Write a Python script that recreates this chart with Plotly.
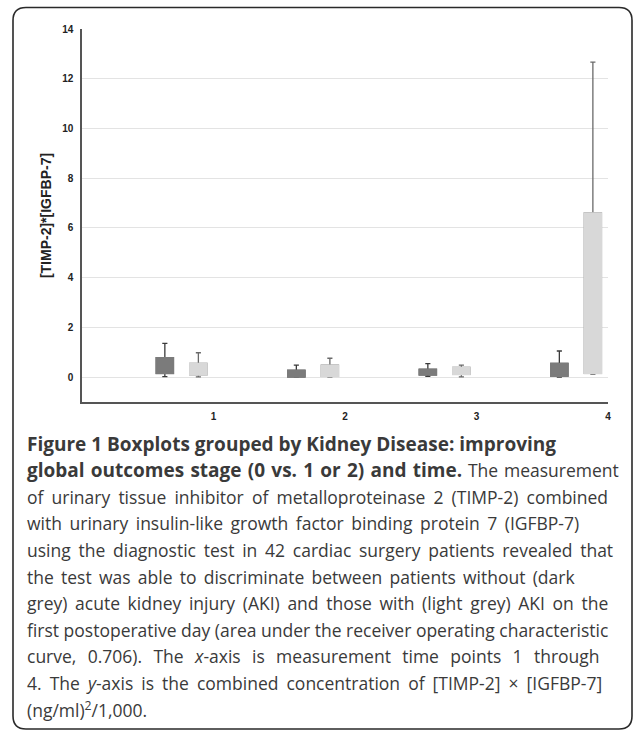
import plotly.graph_objects as go

# ---- data ----
time_points = [1, 2, 3, 4]
tick_labels = ["1", "2", "3", "4"]

# without AKI (dark grey)
noaki_lower = [0.02, 0.00, 0.03, 0.00]
noaki_q1 = [0.15, 0.01, 0.09, 0.04]
noaki_median = [0.15, 0.01, 0.09, 0.04]
noaki_q3 = [0.78, 0.27, 0.31, 0.55]
noaki_upper = [1.36, 0.48, 0.54, 1.05]

# with AKI (light grey)
aki_lower = [0.01, 0.00, 0.01, 0.11]
aki_q1 = [0.09, 0.03, 0.11, 0.15]
aki_median = [0.09, 0.03, 0.11, 0.15]
aki_q3 = [0.55, 0.48, 0.39, 6.60]
aki_upper = [0.98, 0.76, 0.48, 12.67]

B0 = '<b><span style="font-size:19px">'
B1 = '</span></b>'
caption_lines = [
    B0 + "Figure 1 Boxplots grouped by Kidney Disease: improving" + B1,
    B0 + "global outcomes stage (0 vs. 1 or 2) and time." + B1 + " The measurement",
    "of urinary tissue inhibitor of metalloproteinase 2 (TIMP-2) combined",
    "with urinary insulin-like growth factor binding protein 7 (IGFBP-7)",
    "using the diagnostic test in 42 cardiac surgery patients revealed that",
    "the test was able to discriminate between patients without (dark",
    "grey) acute kidney injury (AKI) and those with (light grey) AKI on the",
    "first postoperative day (area under the receiver operating characteristic",
    "curve, 0.706). The <i>x</i>-axis is measurement time points 1 through",
    "4. The <i>y</i>-axis is the combined concentration of [TIMP-2] × [IGFBP-7]",
    "(ng/ml)<sup>2</sup>/1,000.",
]
# extra word spacing (px) per caption line, to mimic the justified paragraph
caption_word_spacing = [0, 1.3, 3.6, 3.0, 3.2, 2.7, 3.1, 0, 6.8, 3.5, 0]

# ---- layout geometry (pixels) ----
W, H = 634, 731
PX0, PX1, PY0, PY1 = 82, 608, 29, 402


def px(x):
    return (x - PX0) / (PX1 - PX0)


def py(y):
    return (PY1 - y) / (PY1 - PY0)


DARK_OFF, LIGHT_OFF, BW = -0.37, -0.115, 0.13
DARK_FILL, LIGHT_FILL = "#7b7b7b", "#d8d8d8"

fig = go.Figure()

groups = [
    (DARK_OFF, noaki_lower, noaki_q1, noaki_median, noaki_q3, noaki_upper, DARK_FILL, "#3a3a3a"),
    (LIGHT_OFF, aki_lower, aki_q1, aki_median, aki_q3, aki_upper, LIGHT_FILL, "#6a6a6a"),
]
# whiskers (with caps)
for off, lo, q1, med, q3, up, fill, wcol in groups:
    xs = [t + off for t in time_points]
    fig.add_trace(go.Box(
        x=xs, q1=q1, median=med, q3=q3, lowerfence=lo, upperfence=up,
        width=BW, whiskerwidth=0.3, fillcolor=fill,
        line=dict(color=wcol, width=1.3), boxpoints=False,
        showlegend=False, hoverinfo="skip",
    ))
# solid boxes without dark outline, drawn on top
for off, lo, q1, med, q3, up, fill, wcol in groups:
    xs = [t + off for t in time_points]
    fig.add_trace(go.Box(
        x=xs, q1=q1, median=med, q3=q3, lowerfence=q1, upperfence=q3,
        width=BW, whiskerwidth=0, fillcolor=fill,
        line=dict(color=fill, width=1.6), boxpoints=False,
        showlegend=False, hoverinfo="skip",
    ))

# caption
LINE0, DL = 443.5, 26.6
annotations = []
for i, txt in enumerate(caption_lines):
    ws = caption_word_spacing[i]
    if ws:
        txt = f'<span style="word-spacing:{ws}px">' + txt + '</span>'
    annotations.append(dict(
        x=px(25), y=py(LINE0 + i * DL), xref="paper", yref="paper",
        xanchor="left", yanchor="middle", showarrow=False, text=txt,
        font=dict(family="Open Sans", size=17.5, color="#3a3a3a"),
    ))

# rounded frame
def frame_path(x0, y0, x1, y1, r):
    pts = [
        f"M {px(x0 + r)} {py(y0)}",
        f"L {px(x1 - r)} {py(y0)}",
        f"Q {px(x1)} {py(y0)} {px(x1)} {py(y0 + r)}",
        f"L {px(x1)} {py(y1 - r)}",
        f"Q {px(x1)} {py(y1)} {px(x1 - r)} {py(y1)}",
        f"L {px(x0 + r)} {py(y1)}",
        f"Q {px(x0)} {py(y1)} {px(x0)} {py(y1 - r)}",
        f"L {px(x0)} {py(y0 + r)}",
        f"Q {px(x0)} {py(y0)} {px(x0 + r)} {py(y0)}",
        "Z",
    ]
    return " ".join(pts)


fig.add_shape(type="path", xref="paper", yref="paper",
              path=frame_path(13, 7.5, 632, 729, 13),
              line=dict(color="#2a2a2a", width=1.6), fillcolor="rgba(0,0,0,0)")

tick_font = dict(family="Liberation Sans", size=10, color="#222222", weight="bold")

fig.update_layout(
    width=W, height=H,
    margin=dict(l=PX0, r=W - PX1, t=PY0, b=H - PY1, pad=0),
    paper_bgcolor="white", plot_bgcolor="white",
    boxmode="overlay",
    annotations=annotations,
    xaxis=dict(
        range=[0, 4], tickmode="array", tickvals=time_points, ticktext=tick_labels,
        showgrid=False, zeroline=False, showline=True, linecolor="#555555", linewidth=1.5,
        ticks="", tickfont=tick_font, ticklabelstandoff=4,
    ),
    yaxis=dict(
        range=[-1, 14], tickmode="array", tickvals=[0, 2, 4, 6, 8, 10, 12, 14],
        showgrid=True, gridcolor="#e3e3e3", gridwidth=1, zeroline=False,
        showline=True, linecolor="#555555", linewidth=1.5, ticks="",
        tickfont=tick_font, ticklabelstandoff=5,
        title=dict(text="<b>[TIMP-2]*[IGFBP-7]</b>", standoff=7,
                   font=dict(family="Liberation Sans", size=14, color="#222222")),
    ),
)

fig.write_html("out.html", config={"displayModeBar": False},
               post_script="document.body.style.margin='0';")
